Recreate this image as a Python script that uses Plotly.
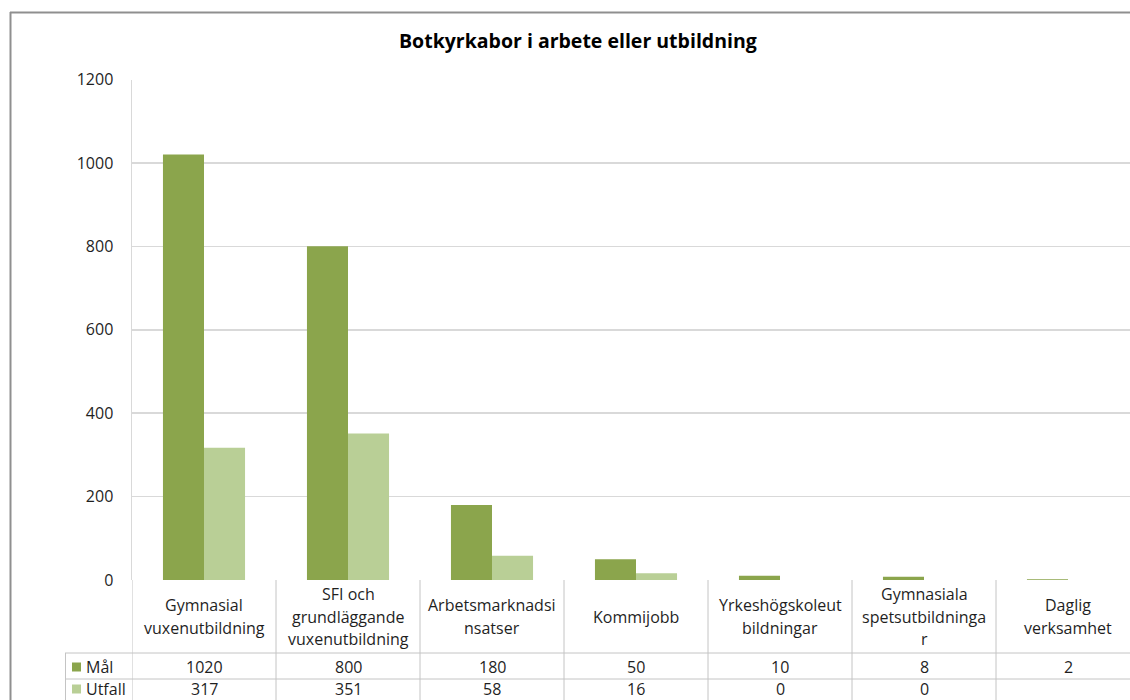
import plotly.graph_objects as go

# ---- data ----
categories = [
    "Gymnasial vuxenutbildning",
    "SFI och grundläggande vuxenutbildning",
    "Arbetsmarknadsinsatser",
    "Kommijobb",
    "Yrkeshögskoleutbildningar",
    "Gymnasiala spetsutbildningar",
    "Daglig verksamhet",
]
category_labels = [
    "Gymnasial<br>vuxenutbildning",
    "SFI och<br>grundläggande<br>vuxenutbildning",
    "Arbetsmarknadsi<br>nsatser",
    "Kommijobb",
    "Yrkeshögskoleut<br>bildningar",
    "Gymnasiala<br>spetsutbildninga<br>r",
    "Daglig<br>verksamhet",
]
series_names = ["Mål", "Utfall"]
mal_values = [1020, 800, 180, 50, 10, 8, 2]
utfall_values = [317, 351, 58, 16, 0, 0, None]
y_ticks = [0, 200, 400, 600, 800, 1000, 1200]
title_text = "Botkyrkabor i arbete eller utbildning"

# ---- style ----
W, H = 1130, 700
FONT = "Open Sans"
TXT = "#1f1f1f"
C_MAL = "#8ba54c"
C_UTF = "#b9cf96"
GRID = "#d9d9d9"
TABLE = "#c4c4c4"


def px(x):
    return x / W


def py(y):
    return 1 - y / H


plot_left, plot_top, plot_bottom = 132, 79.5, 580
cat_w = 144.0
x_range = [-0.5, -0.5 + (W - plot_left) / cat_w]

fig = go.Figure()
fig.add_trace(go.Bar(name=series_names[0], x=categories, y=mal_values,
                     marker=dict(color=C_MAL, line=dict(width=0))))
fig.add_trace(go.Bar(name=series_names[1], x=categories,
                     y=[v if v is not None else 0 for v in utfall_values],
                     marker=dict(color=C_UTF, line=dict(width=0))))

shapes = []
annotations = []

# frame
shapes.append(dict(type="line", xref="paper", yref="paper", x0=px(10.5), x1=px(10.5),
                   y0=py(12), y1=py(H), line=dict(color="#8f8f8f", width=2)))
shapes.append(dict(type="line", xref="paper", yref="paper", x0=px(10), x1=px(W),
                   y0=py(12.5), y1=py(12.5), line=dict(color="#8f8f8f", width=2)))

# table: vertical lines at category boundaries
for i in range(len(categories)):
    xb = i - 0.5
    shapes.append(dict(type="line", xref="x", yref="paper", x0=xb, x1=xb,
                       y0=py(plot_bottom), y1=py(H), line=dict(color=TABLE, width=1)))
# table horizontal lines
for yy in [653, 679]:
    shapes.append(dict(type="line", xref="paper", yref="paper", x0=px(65), x1=px(W),
                       y0=py(yy), y1=py(yy), line=dict(color=TABLE, width=1)))
# left legend column border
shapes.append(dict(type="line", xref="paper", yref="paper", x0=px(65.5), x1=px(65.5),
                   y0=py(653), y1=py(H), line=dict(color=TABLE, width=1)))

# category labels (line by line, Excel-like spacing)
line_h = 22.5
row_center = 616.5
for cat, lab in zip(categories, category_labels):
    lines = lab.split("<br>")
    n = len(lines)
    for k, ln in enumerate(lines):
        yc = row_center + (k - (n - 1) / 2) * line_h
        annotations.append(dict(x=cat, xref="x", y=py(yc), yref="paper", text=ln,
                                showarrow=False, xanchor="center", yanchor="middle",
                                font=dict(family=FONT, size=16, color=TXT)))

# value rows
row_y = [667, 689]
for vals, yc in zip([mal_values, utfall_values], row_y):
    for cat, v in zip(categories, vals):
        if v is None:
            continue
        annotations.append(dict(x=cat, xref="x", y=py(yc), yref="paper", text=str(v),
                                showarrow=False, xanchor="center", yanchor="middle",
                                font=dict(family=FONT, size=16, color=TXT)))

# legend keys in table
for name, col, yc in zip(series_names, [C_MAL, C_UTF], row_y):
    shapes.append(dict(type="rect", xref="paper", yref="paper", x0=px(72), x1=px(81),
                       y0=py(yc - 4.5), y1=py(yc + 4.5), fillcolor=col, line=dict(width=0)))
    annotations.append(dict(x=px(84), xref="paper", y=py(yc), yref="paper", text=name,
                            showarrow=False, xanchor="left", yanchor="middle",
                            font=dict(family=FONT, size=16, color=TXT)))

# title
annotations.append(dict(x=px(578), xref="paper", y=py(40), yref="paper", text="<b>" + title_text + "</b>",
                        showarrow=False, xanchor="center", yanchor="middle",
                        font=dict(family=FONT, size=19.5, color="#000000")))

fig.update_layout(
    width=W, height=H, autosize=False,
    margin=dict(l=0, r=0, t=0, b=0, pad=0, autoexpand=False),
    paper_bgcolor="white", plot_bgcolor="white",
    barmode="group", bargap=0.43, bargroupgap=0,
    showlegend=False,
    shapes=shapes, annotations=annotations,
    font=dict(family=FONT, color=TXT),
    xaxis=dict(domain=[px(plot_left), 1], range=x_range, showticklabels=False,
               showgrid=False, zeroline=False, showline=False, ticks="", automargin=False,
               categoryorder="array", categoryarray=categories, fixedrange=True),
    yaxis=dict(domain=[py(plot_bottom), py(plot_top)], range=[0, 1200],
               tickvals=y_ticks, ticktext=[str(t) for t in y_ticks],
               showgrid=True, gridcolor=GRID, gridwidth=1.5, zeroline=False,
               showline=True, linecolor=GRID, linewidth=1.5, automargin=False,
               ticks="", ticklabelstandoff=14, fixedrange=True,
               tickfont=dict(family=FONT, size=16, color=TXT)),
)

fig.write_html(
    "out.html",
    config={"displayModeBar": False, "staticPlot": True},
    post_script="document.documentElement.style.margin='0';document.body.style.margin='0';"
                "document.body.style.overflow='hidden';document.documentElement.style.overflow='hidden';",
)
